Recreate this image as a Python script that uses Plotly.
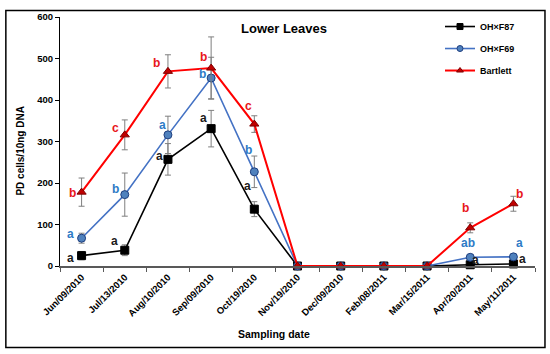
import plotly.graph_objects as go

dates = ["Jun/09/2010", "Jul/13/2010", "Aug/10/2010", "Sep/09/2010", "Oct/19/2010",
         "Nov/19/2010", "Dec/09/2010", "Feb/08/2011", "Mar/15/2011", "Apr/20/2011", "May/11/2011"]

f87 = [25, 38, 257, 331, 137, 0, 0, 0, 0, 3, 5]
f87_err = [10, 13, 38, 44, 18, 0, 0, 0, 0, 1, 1]

f69 = [67, 172, 316, 453, 227, 0, 0, 0, 0, 21, 22]
f69_err = [12, 52, 45, 50, 38, 0, 0, 0, 0, 2, 2]

bart = [178, 316, 469, 477, 342, 0, 0, 0, 0, 92, 150]
bart_err = [34, 36, 40, 75, 20, 0, 0, 0, 0, 12, 18]

# significance letters: (date index, value, text, xshift px, yshift px)
f87_letters = [(0, 25, "a", -11, -2), (1, 38, "a", -10, 9), (2, 257, "a", -8, 3),
               (3, 331, "a", -8, 11), (4, 137, "a", -7, 23), (9, 3, "a", 5, 5), (10, 5, "a", 9, 5)]
f69_letters = [(0, 67, "a", -11, 4), (1, 172, "b", -9, 6), (2, 316, "a", -5, 10),
               (3, 453, "b", -9, 4), (4, 227, "b", -6, 22), (9, 21, "ab", -2, 14), (10, 22, "a", 6, 14)]
bart_letters = [(0, 178, "b", -9, -1), (1, 316, "c", -9, 7), (2, 469, "b", -11, 8),
                (3, 477, "b", -8, 11), (4, 342, "c", -6, 18), (9, 92, "b", -5, 20), (10, 150, "b", 6, 10)]

BLACK = "#000000"
BLUE = "#4472C4"
RED = "#FF0000"
FONT = "Liberation Sans"

fig = go.Figure()

def add(name, y, err, color, marker, mfill, mline, lw):
    fig.add_trace(go.Scatter(
        x=dates, y=y, name="<b>" + name + "</b>", mode="lines+markers",
        line=dict(color=color, width=lw),
        marker=dict(symbol=marker, size=8, color=mfill, line=dict(color=mline, width=1)),
        error_y=dict(type="data", array=err, visible=True, color="#7F7F7F", thickness=1, width=3),
        cliponaxis=False, showlegend=False,
    ))
    # legend entry with smaller marker, as in the reference
    fig.add_trace(go.Scatter(
        x=[None], y=[None], name="<b>" + name + "</b>", mode="lines+markers",
        line=dict(color=color, width=lw),
        marker=dict(symbol=marker, size=6, color=mfill, line=dict(color=mline, width=1)),
        showlegend=True, legendgroup=name,
    ))

add("OH×F87", f87, f87_err, BLACK, "square", BLACK, BLACK, 1.6)
add("OH×F69", f69, f69_err, BLUE, "circle", "#4F81BD", "#1F3F7F", 1.6)
add("Bartlett", bart, bart_err, RED, "triangle-up", "#C00000", "#7F0000", 2)

ann = []
for letters, color in [(f87_letters, "#1a1a1a"), (f69_letters, "#2E7BC6"), (bart_letters, "#E8161B")]:
    for i, v, t, xs, ys in letters:
        ann.append(dict(x=dates[i], y=v, text="<b>" + t + "</b>", showarrow=False, xshift=xs, yshift=ys,
                        font=dict(family=FONT, size=12, color=color)))

ann.append(dict(xref="paper", yref="paper", x=0.471, y=0.953, text="<b>Lower Leaves</b>",
                showarrow=False, yanchor="middle", font=dict(family=FONT, size=13, color="black")))
ann.append(dict(xref="paper", yref="paper", x=0.45, y=-0.274, text="<b>Sampling date</b>",
                showarrow=False, yanchor="middle", font=dict(family=FONT, size=10.5, color="black")))
ann.append(dict(xref="paper", yref="paper", x=-0.084, y=0.46, text="<b>PD cells/10ng DNA</b>",
                textangle=-90, showarrow=False, xanchor="center", yanchor="middle",
                font=dict(family=FONT, size=10, color="black")))

fig.update_layout(
    width=550, height=354,
    margin=dict(l=60, r=15, t=14, b=88),
    paper_bgcolor="white", plot_bgcolor="white",
    font=dict(family=FONT, color="black"),
    annotations=ann,
    showlegend=True,
    legend=dict(x=0.8, y=1.02, xanchor="left", yanchor="top", bgcolor="rgba(0,0,0,0)",
                font=dict(family=FONT, size=9, color="black"), tracegroupgap=3, itemwidth=30),
    shapes=[dict(type="rect", xref="paper", yref="paper", x0=-0.114, x1=1.021, y0=-0.327, y1=1.026,
                 line=dict(color="black", width=1.5), fillcolor="rgba(0,0,0,0)", layer="above")],
)

fig.update_xaxes(
    type="category", range=[-0.5, 10.5], showline=True, linecolor="#595959", linewidth=2,
    ticks="outside", tickson="boundaries", ticklen=4, tickcolor="#595959", tickangle=-45,
    tickfont=dict(family=FONT, size=9.5, color="black"), showgrid=False, zeroline=False,
    tickprefix="<b>", ticksuffix="</b>", automargin=False,
)
fig.update_yaxes(
    range=[0, 600], dtick=100, showline=True, linecolor="black", linewidth=1.2,
    ticks="outside", ticklen=4, tickcolor="black", showgrid=False, zeroline=False,
    tickfont=dict(family=FONT, size=9.5, color="black"), tickprefix="<b>", ticksuffix="</b>",
    automargin=False,
)

fig.write_html("out.html", config={"displayModeBar": False},
               post_script="document.body.style.margin='0px';")
